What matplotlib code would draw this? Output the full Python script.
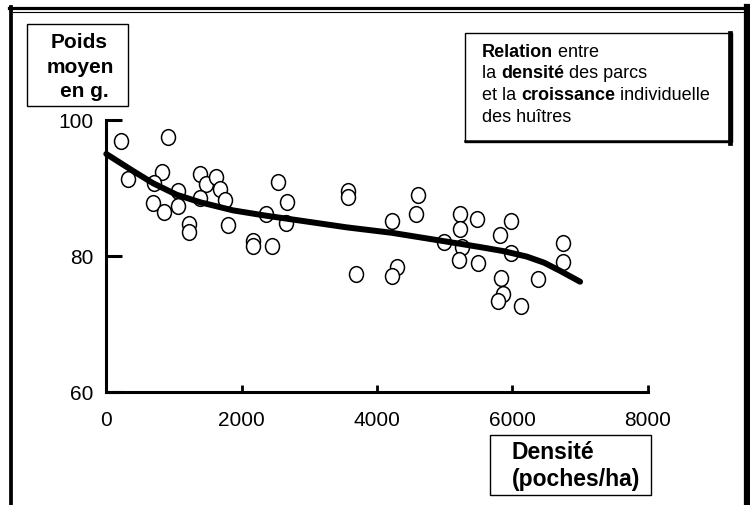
import numpy as np
import matplotlib
matplotlib.use("Agg")
import matplotlib.pyplot as plt
from matplotlib.patches import Rectangle
from matplotlib.lines import Line2D
from matplotlib.path import Path
from matplotlib.transforms import Affine2D

plt.rcParams['font.family'] = ['Liberation Sans', 'DejaVu Sans']

# points : densité (poches/ha) et poids moyen (g)
densite = [217, 907, 325, 819, 709, 1064, 695, 853, 1064, 1227, 1227, 1385, 1474,
           1617, 1681, 1385, 1754, 1803, 2173, 2173, 2445, 2542, 2675, 2360, 2652,
           3577, 3577, 4218, 4611, 4577, 3691, 4301, 4227, 5228, 5228, 4996, 5253,
           5213, 5475, 5498, 5981, 5819, 5981, 5829, 5868, 5794, 6129, 6385, 6754, 6754]
poids = [96.9, 97.5, 91.3, 92.3, 90.8, 89.6, 87.8, 86.5, 87.4, 84.7, 83.5, 92.0, 90.6,
         91.6, 89.8, 88.5, 88.2, 84.6, 82.2, 81.5, 81.5, 90.9, 87.9, 86.2, 84.9,
         89.6, 88.7, 85.2, 88.9, 86.2, 77.3, 78.3, 77.0, 86.2, 84.0, 82.1, 81.3,
         79.4, 85.5, 79.0, 85.2, 83.1, 80.4, 76.7, 74.4, 73.4, 72.6, 76.6, 81.9, 79.1]

# courbe d'ajustement
courbe_x = [0, 395, 690, 1040, 1385, 1873, 2371, 2863, 3553, 4218, 5031, 5523, 5870,
            6213, 6470, 6706, 7001]
courbe_y = [95.0, 92.5, 90.7, 89.0, 87.9, 86.7, 85.9, 85.2, 84.2, 83.4, 82.1, 81.3, 80.7,
            79.9, 79.0, 77.8, 76.2]

xticks = [0, 2000, 4000, 6000, 8000]
yticks = [60, 80, 100]

W, H = 750, 506
fig = plt.figure(figsize=(W / 100, H / 100), dpi=100)


def fx(px):
    return px / W


def fy(py):
    return 1 - py / H


ax = fig.add_axes([fx(106.3), fy(392.8), (647.7 - 106.3) / W, (392.8 - 121) / H])

# marqueur ovale (un peu plus haut que large)
oval = Path.unit_circle().transformed(Affine2D().scale(0.89, 1.0))
ax.plot(densite, poids, linestyle='none', marker=oval, ms=11.3, mfc='white',
        mec='black', mew=1.1, clip_on=False, zorder=3)
ax.plot(courbe_x, courbe_y, color='black', lw=4.3, solid_capstyle='round',
        solid_joinstyle='round', clip_on=False, zorder=4)

ax.set_xlim(0, 8000)
ax.set_ylim(60, 100)
for s in ['top', 'right']:
    ax.spines[s].set_visible(False)
for s in ['left', 'bottom']:
    ax.spines[s].set_linewidth(2.2)
    ax.spines[s].set_capstyle('projecting')
ax.set_xticks(xticks)
ax.set_yticks(yticks)
ax.tick_params(axis='x', direction='in', length=5, width=2.0, labelsize=15, pad=13)
ax.tick_params(axis='y', direction='in', length=11.5, width=2.2, labelsize=15, pad=9)

# cadre extérieur
fig.add_artist(Line2D([fx(9), fx(748)], [fy(9.2), fy(9.2)], lw=2.3, color='black'))
fig.add_artist(Line2D([fx(13), fx(745)], [fy(12.6), fy(12.6)], lw=0.8, color='black'))
fig.add_artist(Line2D([fx(11.2), fx(11.2)], [fy(7.5), fy(506)], lw=2.7, color='black'))
fig.add_artist(Line2D([fx(746.5), fx(746.5)], [fy(8), fy(506)], lw=4.5, color='black'))

# boîte "Poids moyen en g."
fig.add_artist(Rectangle((fx(26.7), fy(107)), (128.3 - 26.7) / W, (107 - 25) / H,
                         transform=fig.transFigure, fill=False, lw=1.0, ec='black'))
for txt, cx, by in [("Poids", 79.5, 48.3), ("moyen", 80, 73.5), ("en g.", 84, 97)]:
    fig.text(fx(cx), fy(by), txt, ha='center', va='baseline', fontsize=15, fontweight='bold')

# boîte "Densité (poches/ha)"
fig.add_artist(Rectangle((fx(490), fy(496)), (650.7 - 490) / W, (496 - 436) / H,
                         transform=fig.transFigure, fill=False, lw=1.0, ec='black'))
fig.text(fx(511.7), fy(459.3), "Densité", ha='left', va='baseline', fontsize=16.5, fontweight='bold')
fig.text(fx(511.7), fy(486), "(poches/ha)", ha='left', va='baseline', fontsize=16.5, fontweight='bold')

# boîte titre avec ombre
fig.add_artist(Rectangle((fx(465), fy(142.7)), (731.7 - 465) / W, (142.7 - 34) / H,
                         transform=fig.transFigure, fill=False, lw=1.0, ec='black'))
fig.add_artist(Line2D([fx(729.5), fx(729.5)], [fy(34), fy(143.5)], lw=3.4, color='black'))
fig.add_artist(Line2D([fx(465), fx(731)], [fy(142.2), fy(142.2)], lw=1.8, color='black'))


def ligne(x, y, morceaux, taille):
    t = fig.text(fx(x), fy(y), morceaux[0][0], ha='left', va='baseline',
                 fontsize=taille, fontweight=morceaux[0][1])
    for txt, w in morceaux[1:]:
        t = ax.annotate(txt, xy=(1, 0), xycoords=t, ha='left', va='bottom',
                        fontsize=taille, fontweight=w, annotation_clip=False)


titre = [
    [("Relation", 'bold'), (" entre", 'normal')],
    [("la ", 'normal'), ("densité", 'bold'), (" des parcs", 'normal')],
    [("et la ", 'normal'), ("croissance", 'bold'), (" individuelle", 'normal')],
    [("des huîtres", 'normal')],
]
for morceaux, by in zip(titre, [56.7, 78.3, 100, 121.7]):
    ligne(481.7, by, morceaux, 13)

fig.savefig("out.png", dpi=100)
